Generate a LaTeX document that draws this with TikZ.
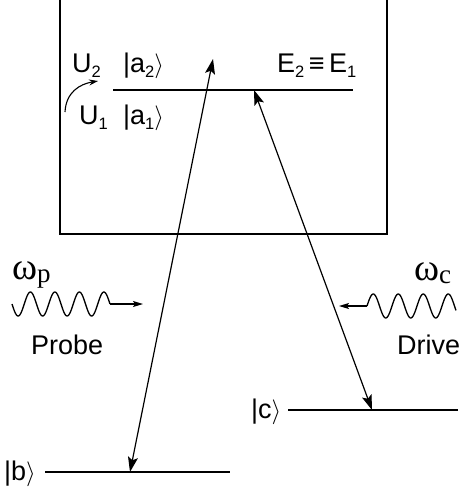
\documentclass[tikz,border=0pt]{standalone}
\usepackage{fontspec}
\setmainfont{Liberation Sans}
\newfontfamily\serifgr{Liberation Serif}
\usetikzlibrary{arrows.meta}
\newcommand\sbs[1]{\raisebox{-0.22em}{\fontsize{16.5}{16.5}\selectfont #1}}
\newcommand\ket[2]{|#1\sbs{#2}$\rangle$}
\begin{document}
\begin{tikzpicture}[x=1pt,y=-1pt,
  lvl/.style={line width=2.8pt},
  boxline/.style={line width=1.8pt},
  tr/.style={line width=1.2pt,{Stealth[length=15pt,width=10pt,inset=3pt]}-{Stealth[length=15pt,width=10pt,inset=3pt]}},
  wave/.style={line width=1.3pt},
  lab/.style={font=\fontsize{27}{27}\selectfont,inner sep=0pt,anchor=base west},
  om/.style={font=\serifgr\fontsize{38}{38}\selectfont,inner sep=0pt,anchor=base west}]
\useasboundingbox (0,0) rectangle (468,493);
% box
\draw[boxline] (60,-3) -- (60,234) -- (387,234) -- (387,-3);
% levels
\coordinate (a1) at (113,90); \coordinate (a2) at (353,90);
\coordinate (b1) at (45,472); \coordinate (b2) at (230,472);
\coordinate (c1) at (288,410); \coordinate (c2) at (458,410);
\draw[lvl] (a1) -- (a2);
\draw[lvl] (b1) -- (b2);
\draw[lvl] (c1) -- (c2);
% labels
\node[lab] (U2) at (72,72) {U\sbs{2}};
\node[lab] (ka2) at (123,72) {\ket{a}{2}};
\node[lab] (E) at (277,72) {E\sbs{2}\,≡\,E\sbs{1}};
\node[lab] (U1) at (79,124) {U\sbs{1}};
\node[lab] (ka1) at (123,124) {\ket{a}{1}};
\node[lab] (kb) at (4,480) {|b$\rangle$};
\node[lab] (kc) at (251,418) {|c$\rangle$};
\node[lab] (probe) at (31,354) {Probe};
\node[lab] (drive) at (397,354) {Drive};
\node[om] (wp) at (12,279) {ω\raisebox{-0.08em}{\fontsize{27}{27}\selectfont p}};
\node[om] (wc) at (414,280) {ω\raisebox{-0.08em}{\fontsize{27}{27}\selectfont c}};
% curved arrow
\coordinate (cs) at (65,112); \coordinate (ce) at (98,81);
\draw[line width=1.1pt,-{Stealth[length=9pt,width=6pt]}] (cs) .. controls (66,92) and (80,84) .. (ce);
% transitions
\coordinate (pb) at (130,472); \coordinate (pt) at (213,59);
\coordinate (dt) at (254,90); \coordinate (db) at (372,410);
\draw[tr] (pb) -- (pt);
\draw[tr] (dt) -- (db);
% probe wave
\coordinate (pw1) at (110,304); \coordinate (pwt) at (143,304);
\draw[wave] plot[domain=12:110,samples=120,smooth] (\x,{304+12*sin(14.694*(\x-12))});
\draw[wave,-{Stealth[length=10pt,width=6pt,inset=2pt]}] (pw1) -- (pwt);
% drive wave
\coordinate (dw1) at (367,306); \coordinate (dwt) at (339,306);
\draw[wave] plot[domain=367:456,samples=120,smooth] (\x,{306-12*sin(14.4*(\x-367))});
\draw[wave,-{Stealth[length=10pt,width=6pt,inset=2pt]}] (dw1) -- (dwt);
\end{tikzpicture}
\end{document}
